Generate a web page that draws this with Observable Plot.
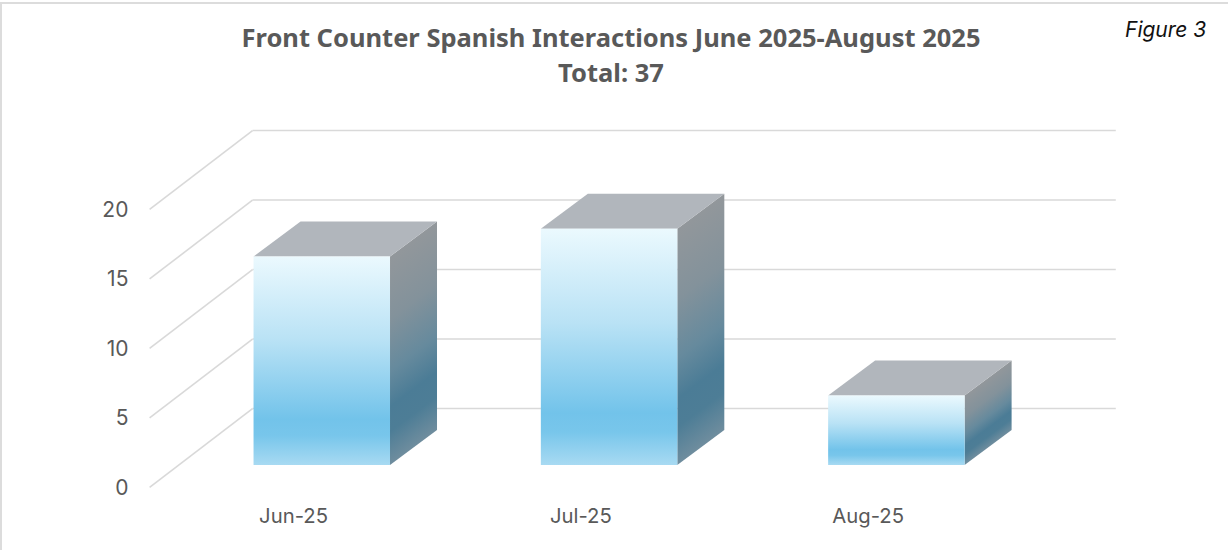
<!DOCTYPE html>
<html>
<head>
<meta charset="utf-8">
<script src="https://cdn.jsdelivr.net/npm/d3@7"></script>
<script src="https://cdn.jsdelivr.net/npm/@observablehq/plot@0.6"></script>
<style>
  html, body { margin: 0; padding: 0; background: #fff; overflow: hidden; }
  #page { position: relative; width: 1228px; height: 550px; box-sizing: border-box; overflow: hidden; }
  #frameTop { position: absolute; left: 0; top: 2px; width: 1228px; height: 2px; background: #dcdcdc; }
  #frameLeft { position: absolute; left: 0; top: 2px; width: 2px; height: 548px; background: #dcdcdc; }
  #head { height: 100px; box-sizing: border-box; padding-top: 20px; text-align: center; padding-left: 0; width: 1222px;
          font-family: "Noto Sans", sans-serif; font-weight: 700; font-size: 25.5px; line-height: 35px; color: #595959; }
  #fig { position: absolute; left: 1125px; top: 17px; font-family: "Inter", sans-serif; font-style: italic; font-size: 21px; color: #111; }
  svg { display: block; }
</style>
</head>
<body>
<div id="page">
  <div id="frameTop"></div>
  <div id="frameLeft"></div>
  <div id="head">Front Counter Spanish Interactions June 2025-August 2025<br>Total: 37</div>
  <div id="fig">Figure 3</div>
  <div id="chart"></div>
</div>
<script>
// Data
const categories = ["Jun-25", "Jul-25", "Aug-25"];
const values = [15, 17, 5];
const yTicks = [0, 5, 10, 15, 20];

// Pseudo-3D layout, in data units (x: one category step; y: one count)
const barHalf = 0.2375, barDepthX = 0.1636, barDepthY = 2.518;
const wallFrontX = -0.601, wallBackX = -0.2428, wallRightX = 2.762;
const wallFrontY = -1.58, wallBackY = 4.1;
const tickLabelX = -0.6747, tickLabelY = -1.62, catLabelDX = -0.1, catLabelY = -3.67;

const bars = categories.map((cat, i) => ({cat, i, v: values[i], id: "side" + i}));

const marks = [
  // gridlines: diagonal on the side wall, horizontal on the back wall
  Plot.link(yTicks, {
    x1: () => wallFrontX, x2: () => wallBackX,
    y1: d => d + wallFrontY, y2: d => d + wallBackY,
    stroke: "#d9d9d9", strokeWidth: 1.6
  }),
  Plot.link(yTicks, {
    x1: () => wallBackX, x2: () => wallRightX,
    y1: d => d + wallBackY, y2: d => d + wallBackY,
    stroke: "#d9d9d9", strokeWidth: 1.6
  }),
  // tick labels
  Plot.text(yTicks, {
    x: () => tickLabelX, y: d => d + tickLabelY, text: d => String(d),
    textAnchor: "end", fontSize: 21, fill: "#595959", fontFamily: "Inter, sans-serif"
  }),
  Plot.text(bars, {
    x: d => d.i + catLabelDX, y: () => catLabelY, text: "cat",
    fontSize: 20.3, fill: "#595959", fontFamily: "Inter, sans-serif"
  })
];

for (const b of bars) {
  const sideEdge = [b.i + barHalf, b.i + barHalf + barDepthX];
  // right side face
  marks.push(Plot.areaY([0, 1], {
    x: t => sideEdge[t],
    y1: t => t * barDepthY,
    y2: t => b.v + t * barDepthY,
    fill: `url(#${b.id})`
  }));
  // top face
  marks.push(Plot.areaX([0, 1], {
    y: t => b.v + t * barDepthY,
    x1: t => b.i - barHalf + t * barDepthX,
    x2: t => b.i + barHalf + t * barDepthX,
    fill: "#b1b6bc"
  }));
}
// front faces
marks.push(Plot.rect(bars, {
  x1: d => d.i - barHalf, x2: d => d.i + barHalf,
  y1: () => 0, y2: d => d.v,
  fill: "url(#front)"
}));

const svg = Plot.plot({
  width: 1228, height: 450,
  marginTop: 0, marginRight: 0, marginBottom: 0, marginLeft: 0,
  x: {type: "linear", domain: [-1.12, 3.1543], range: [0, 1228], axis: null},
  y: {type: "linear", domain: [-6.115, 26.26], axis: null},
  style: {background: "transparent"},
  marks
});

// Gradients
const defs = d3.select(svg).append("defs");
const front = defs.append("linearGradient").attr("id", "front")
  .attr("x1", 0).attr("y1", 0).attr("x2", 0).attr("y2", 1);
[[0, "#ebf9fe"], [0.4, "#b9e2f5"], [0.78, "#72c3ea"], [0.86, "#78c6eb"], [1, "#a8daf2"]]
  .forEach(([o, c]) => front.append("stop").attr("offset", o).attr("stop-color", c));
for (const b of bars) {
  // isolines follow the slanted edge of the side face
  const k = barDepthY / (b.v + barDepthY);
  const gx = k / (1 - k), gy = 1 / (1 - k), g2 = gx * gx + gy * gy;
  const side = defs.append("linearGradient").attr("id", b.id)
    .attr("x1", 0).attr("y1", k).attr("x2", gx / g2).attr("y2", k + gy / g2);
  [[0, "#92979b"], [0.3, "#83929b"], [0.55, "#668a9d"], [0.72, "#4b7c96"], [0.84, "#4d7d96"], [1, "#6f8d9e"]]
    .forEach(([o, c]) => side.append("stop").attr("offset", o).attr("stop-color", c));
}
document.getElementById("chart").appendChild(svg);
</script>
</body>
</html>
